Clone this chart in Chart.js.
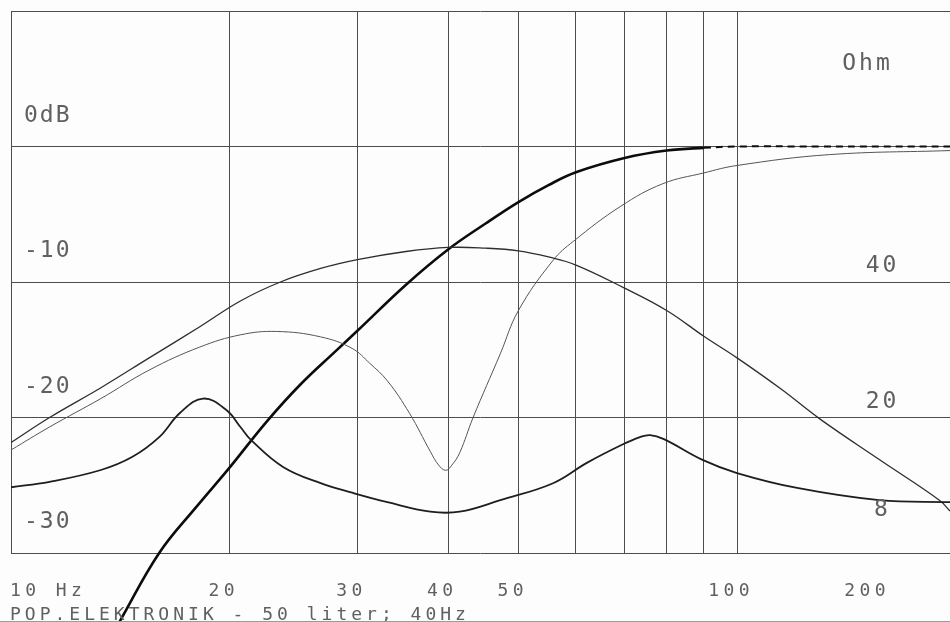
<!DOCTYPE html>
<html>
<head>
<meta charset="utf-8">
<script src="https://cdn.jsdelivr.net/npm/chart.js@4/dist/chart.umd.min.js"></script>
<style>
  html, body { margin: 0; padding: 0; background: #fdfdfd; }
  canvas { display: block; }
</style>
</head>
<body>
<canvas id="plot" width="950" height="622"></canvas>
<script>
// grid / tick values
const xGrid = [10, 20, 30, 40, 50, 60, 70, 80, 90, 100];
const xTickValues = [10, 20, 30, 40, 50, 100, 200];
const xTickLabels = ['10 Hz', '20', '30', '40', '50', '100', '200'];
const dbTickValues = [0, -10, -20, -30];
const dbTickLabels = ['0dB', '-10', '-20', '-30'];
const ohmTickValues = [40, 20, 8];
const ohmTickLabels = ['40', '20', '8'];
const caption = 'POP.ELEKTRONIK - 50 liter; 40Hz';

// total response (thick), dB
const totalFreq = [14.1, 16, 18, 20, 22.5, 25, 28, 30, 35, 40, 45, 50, 55, 60, 70, 80, 90, 100, 130, 196.5];
const totalDb = [-35.1, -30.0, -26.6, -23.7, -20.3, -17.6, -15.1, -13.6, -10.2, -7.6, -5.7, -4.1, -2.85, -1.9, -0.85, -0.3, -0.1, 0, 0, 0];

// port / hump curve, dB
const portFreq = [10, 11.3, 13.3, 15.5, 18.2, 20.7, 23.5, 26.7, 30, 35, 40, 45, 50, 55, 60, 70, 80, 90, 100, 115, 130, 157, 190, 196.5];
const portDb = [-21.85, -20.0, -17.8, -15.6, -13.3, -11.4, -10.0, -9.0, -8.35, -7.75, -7.45, -7.5, -7.7, -8.15, -8.75, -10.45, -12.1, -14.0, -15.6, -17.9, -20.1, -23.1, -26.1, -26.9];

// woofer curve with notch, dB
const coneFreq = [10, 11.3, 13.3, 15.5, 18.2, 20.7, 23.2, 26.7, 29.5, 31.2, 33, 35.4, 37.8, 38.8, 39.7, 40.5, 41.5, 43.3, 47.2, 50, 55.8, 59.5, 69.2, 79, 90, 100, 134, 196.5];
const coneDb = [-22.4, -20.7, -18.6, -16.5, -14.8, -13.9, -13.65, -14.05, -14.9, -16.0, -17.3, -19.7, -22.5, -23.5, -23.9, -23.5, -22.6, -20.0, -15.3, -12.1, -8.4, -7.0, -4.4, -2.75, -1.95, -1.4, -0.6, -0.3];

// impedance, Ohm
const impFreq = [10, 11.3, 13.3, 14.7, 16.0, 17.1, 18.4, 19.8, 20.7, 21.4, 23.7, 26.7, 29.5, 33, 37.8, 41.5, 47.2, 55.8, 62.1, 69.2, 73.5, 75.9, 79.3, 89.8, 100, 121, 157, 196.5];
const impOhm = [9.7, 10.5, 12.25, 14.2, 17.1, 20.7, 22.8, 21.1, 18.6, 16.7, 12.7, 10.3, 8.9, 7.5, 6.1, 6.1, 7.8, 10.3, 13.3, 15.9, 17.1, 17.4, 16.8, 13.7, 11.8, 9.6, 7.8, 7.5];

const pts = (xs, ys) => xs.map((x, i) => ({ x: x, y: ys[i] }));

const TEXT = '#606060';
const MONO = '"DejaVu Sans Mono", monospace';

function putText(ctx, txt, x, y, size, spacing, align) {
  ctx.font = size + 'px ' + MONO;
  ctx.letterSpacing = spacing + 'px';
  let w = ctx.measureText(txt).width - spacing;
  let x0 = x;
  if (align === 'center') x0 = x - w / 2;
  if (align === 'right') x0 = x - w;
  ctx.textAlign = 'left';
  ctx.fillText(txt, x0, y);
}

const plotText = {
  id: 'plotText',
  afterDraw(chart) {
    const ctx = chart.ctx;
    const xs = chart.scales.x, ys = chart.scales.y, os = chart.scales.y1;
    const area = chart.chartArea;
    ctx.save();
    ctx.fillStyle = TEXT;
    ctx.textBaseline = 'alphabetic';

    dbTickValues.forEach((v, i) => {
      putText(ctx, dbTickLabels[i], area.left + 13, ys.getPixelForValue(v) - 25, 23, 2, 'left');
    });

    putText(ctx, 'Ohm', 866, os.getPixelForValue(80) + 59, 23, 3, 'center');
    ohmTickValues.forEach((v, i) => {
      let y = os.getPixelForValue(v) - 10;
      if (v < 10) y = os.getPixelForValue(v) + 17;
      putText(ctx, ohmTickLabels[i], 881, y, 23, 3, 'center');
    });

    xTickValues.forEach((v, i) => {
      const base = area.bottom + 43;
      if (i === 0) {
        putText(ctx, xTickLabels[i], xs.getPixelForValue(v) - 1, base, 18, 4.4, 'left');
      } else {
        const px = Math.min(xs.getPixelForValue(v), area.right - 77) - 8;
        putText(ctx, xTickLabels[i], px, base, 18, 4.4, 'center');
      }
    });

    putText(ctx, caption, area.left - 1, area.bottom + 67, 18, 4.0, 'left');

    ctx.strokeStyle = '#9a9a9a';
    ctx.lineWidth = 1;
    ctx.beginPath();
    ctx.moveTo(0, chart.height - 0.5);
    ctx.lineTo(chart.width, chart.height - 0.5);
    ctx.stroke();
    ctx.restore();
  }
};

const gridOpts = { color: '#4d4d4d', lineWidth: 1, drawTicks: false };

new Chart(document.getElementById('plot').getContext('2d'), {
  type: 'line',
  data: {
    datasets: [
      {
        data: pts(impFreq, impOhm),
        yAxisID: 'y1',
        borderColor: '#1e1e1e',
        borderWidth: 1.8
      },
      {
        data: pts(portFreq, portDb),
        borderColor: '#2e2e2e',
        borderWidth: 1.3
      },
      {
        data: pts(coneFreq, coneDb),
        borderColor: '#555',
        borderWidth: 1.0
      },
      {
        data: pts(totalFreq, totalDb),
        borderColor: '#0c0c0c',
        borderWidth: 2.6,
        clip: false,
        segment: {
          borderDash: c => (c.p0.parsed.x >= 90 ? [7, 5] : undefined),
          borderWidth: c => (c.p0.parsed.x >= 90 ? 2 : undefined)
        }
      }
    ]
  },
  options: {
    responsive: false,
    animation: false,
    events: [],
    layout: { padding: { left: 11, top: 11, right: 0, bottom: 69 } },
    elements: { point: { radius: 0 }, line: { fill: false, tension: 0.4 } },
    plugins: { legend: { display: false }, tooltip: { enabled: false } },
    scales: {
      x: {
        type: 'logarithmic',
        min: 10,
        max: 196.5,
        afterBuildTicks: s => { s.ticks = xGrid.map(v => ({ value: v })); },
        ticks: { display: false },
        grid: gridOpts,
        border: { display: false }
      },
      y: {
        position: 'left',
        min: -30,
        max: 10,
        ticks: { display: false, stepSize: 10 },
        grid: gridOpts,
        border: { display: false }
      },
      y1: {
        display: false,
        min: 0,
        max: 80
      }
    }
  },
  plugins: [plotText]
});
</script>
</body>
</html>
